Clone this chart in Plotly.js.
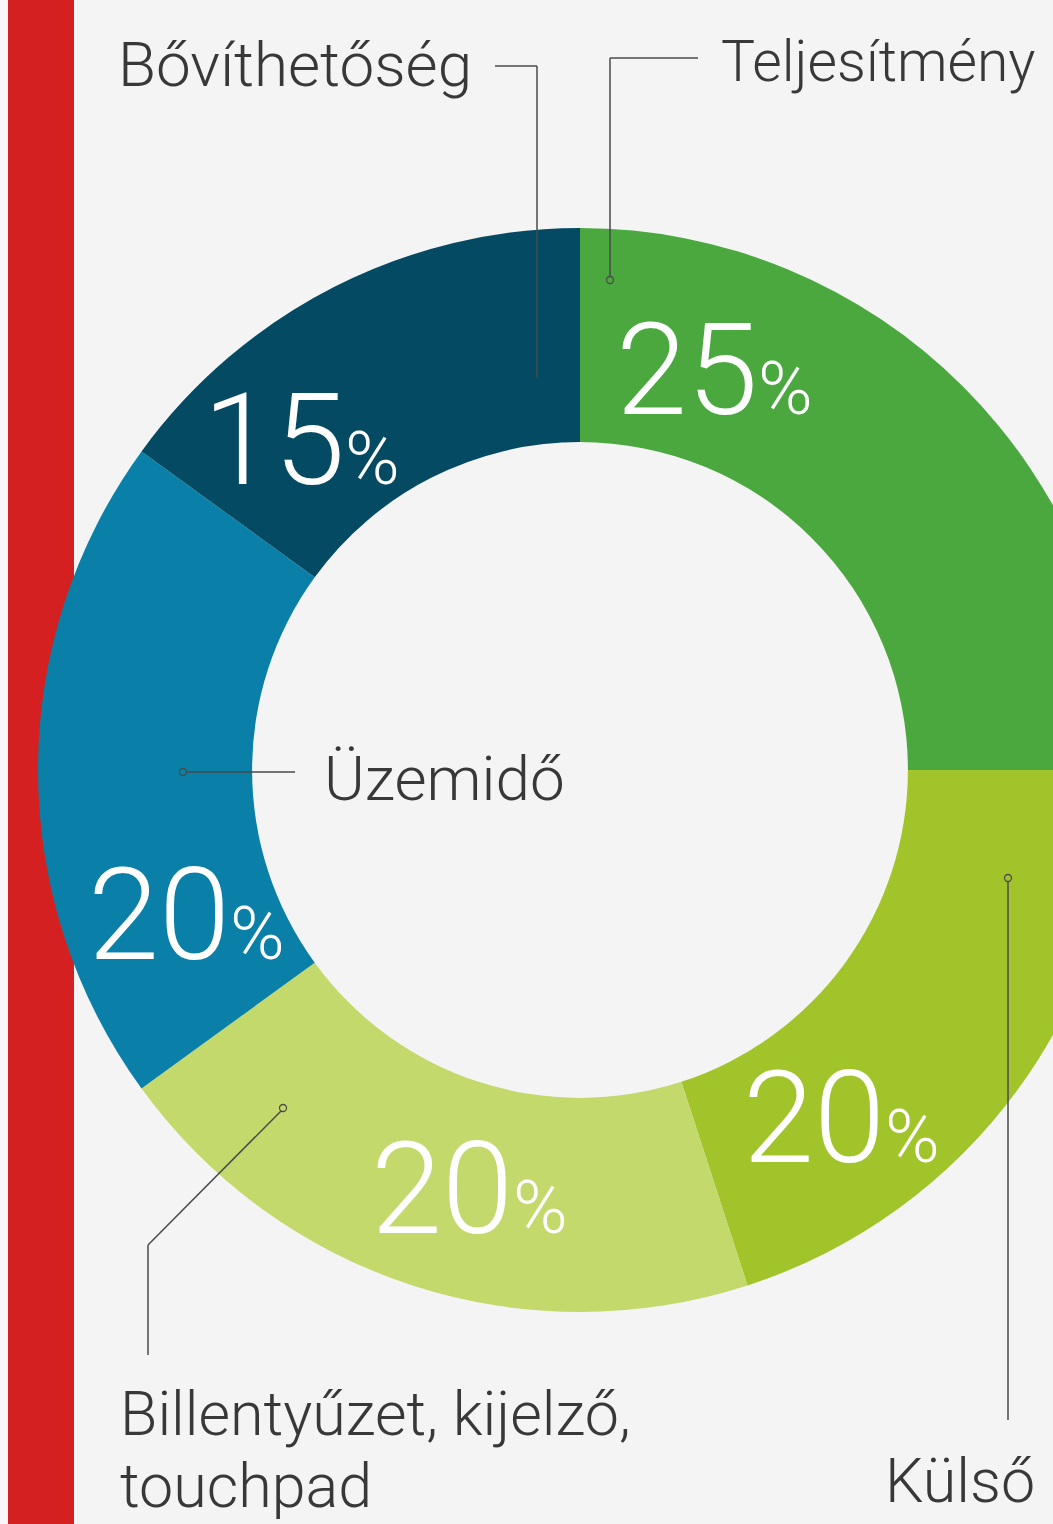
<!DOCTYPE html>
<html>
<head>
<meta charset="utf-8">
<script src="https://cdn.plot.ly/plotly-3.0.1.min.js"></script>
<style>
  html, body { margin: 0; padding: 0; overflow: hidden; background: #f4f4f4; }
  #chart { width: 1160px; height: 1524px; }
</style>
</head>
<body>
<div id="chart"></div>
<script>
// ---- data ----
const categories = ["Teljesítmény", "Külső", "Billentyűzet, kijelző, touchpad", "Üzemidő", "Bővíthetőség"];
const values = [25, 20, 20, 20, 15];
const colors = ["#4aa83e", "#a1c42a", "#c4d96c", "#0a80a8", "#054a63"];

// ---- layout helpers (pixel -> paper) ----
const W = 1160, H = 1524;
const px = x => x / W;
const py = y => 1 - y / H;

const FONT = "Roboto, 'Open Sans', Lato, sans-serif";
const TXT = "#383838";
const LINE = "#4a4a4a";

// percent label placement (left edge x, vertical centre y) per slice
const pctPos = [[614, 370], [741, 1118], [369, 1189], [86, 915], [201, 440]];

const annotations = [];
values.forEach((v, i) => {
  annotations.push({
    xref: "paper", yref: "paper",
    x: px(pctPos[i][0]), y: py(pctPos[i][1]),
    xanchor: "left", yanchor: "middle",
    showarrow: false,
    text: v + "<span style='font-size:74px'>%</span>",
    font: { family: FONT, size: 128, color: "#ffffff", weight: 300 }
  });
});

// category labels
const labelDefs = [
  { t: "Bővíthetőség", x: 116, y: 64, s: 62 },
  { t: "Teljesítmény", x: 719, y: 61, s: 57 },
  { t: "Üzemidő", x: 322, y: 778, s: 62 },
  { t: "Billentyűzet, kijelző,", x: 118, y: 1414, s: 61 },
  { t: "touchpad", x: 118, y: 1486, s: 61 },
  { t: "Külső", x: 883, y: 1481, s: 61 }
];
labelDefs.forEach(d => annotations.push({
  xref: "paper", yref: "paper",
  x: px(d.x), y: py(d.y),
  xanchor: "left", yanchor: "middle",
  showarrow: false, text: d.t,
  font: { family: FONT, size: d.s, color: TXT, weight: 300 }
}));

// leader lines
const seg = (x0, y0, x1, y1) => ({
  type: "line", xref: "paper", yref: "paper",
  x0: px(x0), y0: py(y0), x1: px(x1), y1: py(y1),
  line: { color: LINE, width: 1.5 }, layer: "above"
});
const dot = (x, y) => ({
  type: "circle", xref: "paper", yref: "paper",
  x0: px(x - 3.5), x1: px(x + 3.5), y0: py(y - 3.5), y1: py(y + 3.5),
  line: { color: LINE, width: 1.3 }, fillcolor: "rgba(0,0,0,0)", layer: "above"
});

const shapes = [
  // red side bar
  { type: "rect", xref: "paper", yref: "paper", x0: px(8), x1: px(74), y0: 0, y1: 1,
    fillcolor: "#d42020", line: { width: 0 }, layer: "below" },
  { type: "rect", xref: "paper", yref: "paper", x0: 0, x1: px(8), y0: 0, y1: 1,
    fillcolor: "#f8f8f8", line: { width: 0 }, layer: "below" },
  // Bővíthetőség
  seg(495, 66, 537, 66), seg(537, 66, 537, 378),
  // Teljesítmény
  seg(698, 58, 610, 58), seg(610, 58, 610, 277), dot(610, 280),
  // Üzemidő
  seg(186, 772, 295, 772), dot(183, 772),
  // Külső
  seg(1008, 881, 1008, 1420), dot(1008, 878),
  // Billentyűzet
  seg(281, 1111, 148, 1245), seg(148, 1245, 148, 1355), dot(283, 1108)
];

const trace = {
  type: "pie",
  labels: categories,
  values: values,
  sort: false,
  direction: "clockwise",
  rotation: 0,
  hole: 0.605,
  textinfo: "none",
  hoverinfo: "skip",
  marker: { colors: colors, line: { width: 0 } },
  domain: { x: [0, 1], y: [py(770) - 542 / H, py(770) + 542 / H] }
};

const layout = {
  width: W, height: H,
  margin: { l: 0, r: 0, t: 0, b: 0 },
  paper_bgcolor: "#f4f4f4",
  plot_bgcolor: "#f4f4f4",
  showlegend: false,
  hovermode: false,
  annotations: annotations,
  shapes: shapes
};

Plotly.newPlot("chart", [trace], layout, { displayModeBar: false, staticPlot: true });
</script>
</body>
</html>
